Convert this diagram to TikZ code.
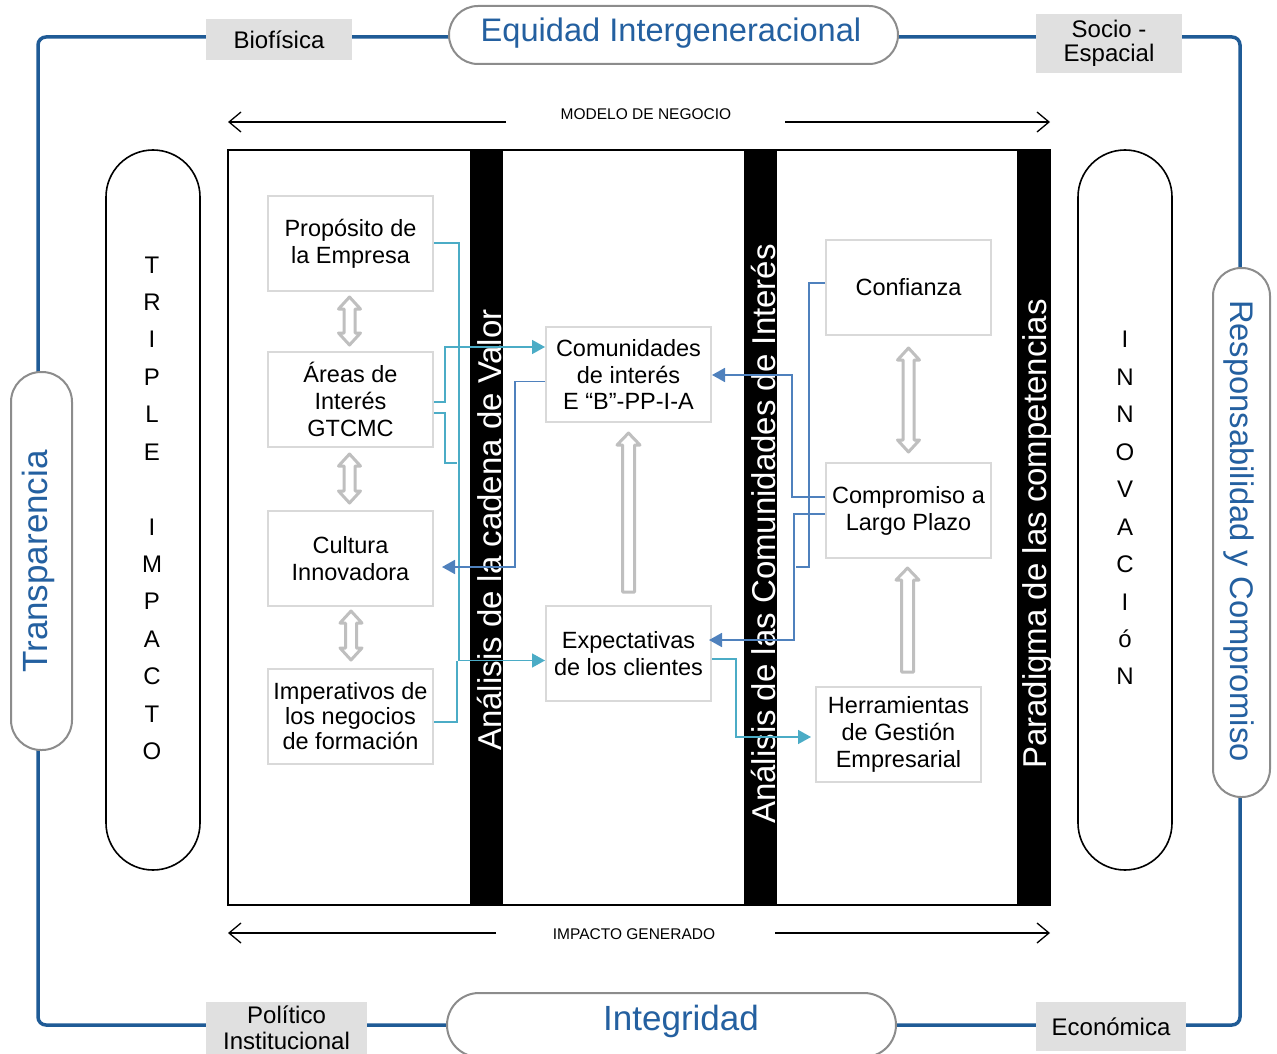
\documentclass[tikz,border=0pt]{standalone}
\usepackage{fontspec}
\setmainfont{Liberation Sans}
\usetikzlibrary{calc,arrows.meta}
\definecolor{oblue}{RGB}{31,91,150}
\definecolor{tblue}{RGB}{36,96,160}
\definecolor{lgray}{RGB}{224,224,224}
\definecolor{pgray}{RGB}{140,140,140}
\definecolor{bgray}{RGB}{217,217,217}
\definecolor{agray}{RGB}{191,191,191}
\definecolor{cyanl}{RGB}{75,172,198}
\definecolor{bluel}{RGB}{79,129,189}
\newcommand{\hollowdouble}[2]{%
  \draw[hollow] #1 -- ++(11,12) -- ++(-5.5,0) -- ($#2+(5.5,-12)$) -- ++(5.5,0) -- #2 -- ++(-11,-12) -- ++(5.5,0) -- ($#1+(-5.5,12)$) -- ++(-5.5,0) -- cycle;}
\newcommand{\hollowup}[2]{%
  \draw[hollow] #1 -- ++(11.5,12) -- ++(-5.5,0) -- ($#2+(6,0)$) -- ++(-12,0) -- ($#1+(-6,12)$) -- ++(-5.5,0) -- cycle;}
\begin{document}
\begin{tikzpicture}[x=1pt,y=-1pt,
  box/.style={draw=bgray, line width=2pt, fill=white, minimum width=165pt, minimum height=95pt, inner sep=0pt, align=center, font=\fontsize{23.5}{27}\selectfont},
  lab/.style={fill=lgray, inner sep=0pt, align=center},
  pill/.style={draw=pgray, line width=2pt, fill=white, inner sep=0pt},
  bpill/.style={draw=black, line width=1.6pt, fill=white, inner sep=0pt, minimum width=94pt, minimum height=720pt, rounded corners=47pt},
  bar/.style={fill=black, inner sep=0pt, minimum width=33pt, minimum height=755pt},
  bartext/.style={text=white, font=\fontsize{33}{33}\selectfont, rotate=90, anchor=base, inner sep=0pt},
  bigblue/.style={text=tblue, inner sep=0pt, anchor=base},
  letter/.style={font=\fontsize{24}{24}\selectfont, anchor=base, inner sep=0pt},
  hollow/.style={draw=agray, line width=3pt, fill=white, line join=round},
  cy/.style={draw=cyanl, line width=1.6pt},
  bl/.style={draw=bluel, line width=1.8pt},
  tip/.style={-{Triangle[length=13pt,width=14pt]}},
  flow/.style={line width=1.3pt, -{Straight Barb[length=12pt,width=20pt]}},
  small/.style={font=\fontsize{15.5}{15.5}\selectfont, anchor=base, inner sep=0pt}
]
\useasboundingbox (0,0) rectangle (1277,1054);
\clip (0,0) rectangle (1277,1054);

% outer frame
\draw[oblue, line width=3.5pt, rounded corners=8pt] (38,37) rectangle (1240,1025);

% corner labels
\node[lab, minimum width=146pt, minimum height=41pt, font=\fontsize{24}{24}\selectfont] (bio) at (279,39.5) {Biofísica};
\node[lab, minimum width=146pt, minimum height=59pt, font=\fontsize{24}{24}\selectfont] (soc) at (1109,43.5) {Socio -\\Espacial};
\node[lab, minimum width=161pt, minimum height=52pt, font=\fontsize{24}{26}\selectfont] (pol) at (286.5,1028) {Político\\Institucional};
\node[lab, minimum width=150pt, minimum height=49pt, font=\fontsize{24}{24}\selectfont] (eco) at (1111,1026.5) {Económica};

% value pills
\node[pill, minimum width=449pt, minimum height=58pt, rounded corners=29pt] (equp) at (673.5,35) {};
\node[bigblue, font=\fontsize{32.6}{33}\selectfont] (equ) at (671,42) {Equidad Intergeneracional};
\node[pill, minimum width=449pt, minimum height=64pt, rounded corners=32pt] (intp) at (671.5,1025) {};
\node[bigblue, font=\fontsize{35}{35}\selectfont] (int) at (681,1030) {Integridad};
\node[pill, minimum width=61pt, minimum height=378pt, rounded corners=30pt] (trap) at (41.5,561) {};
\node[bigblue, font=\fontsize{35}{35}\selectfont, rotate=90] (tra) at (47,561.5) {Transparencia};
\node[pill, minimum width=57pt, minimum height=529pt, rounded corners=28pt] (resp) at (1241.5,532.5) {};
\node[bigblue, font=\fontsize{32.7}{33}\selectfont, rotate=-90] (res) at (1230,531) {Responsabilidad y Compromiso};

% top and bottom flows
\node[small] (mod) at (646,120) {MODELO DE NEGOCIO};
\coordinate (modL) at (506,122); \coordinate (modLe) at (228,122);
\coordinate (modR) at (785,122); \coordinate (modRe) at (1050,122);
\draw[flow] (modL) -- (modLe);
\draw[flow] (modR) -- (modRe);
\node[small] (imp) at (634,939) {IMPACTO GENERADO};
\coordinate (impL) at (496,933); \coordinate (impLe) at (228,933);
\coordinate (impR) at (775,933); \coordinate (impRe) at (1050,933);
\draw[flow] (impL) -- (impLe);
\draw[flow] (impR) -- (impRe);

% side pills
\node[bpill] (tri) at (153,510) {};
\foreach \l/\yy [count=\i] in {T/265,R/302,I/339,P/377,L/414,E/452,I/527,M/564,P/601,A/639,C/676,T/714,O/751}
  \node[letter] (tl\i) at (152,\yy+8.6) {\l};
\node[bpill] (inn) at (1125,510) {};
\foreach \l/\yy [count=\i] in {I/339,N/377,N/414,O/452,V/489,A/527,C/564,I/602,ó/639,N/676}
  \node[letter] (il\i) at (1125,\yy+8.6) {\l};

% main frame and bars
\node[draw=black, line width=2pt, minimum width=822pt, minimum height=755pt, inner sep=0pt] (main) at (639,527.5) {};
\node[bar] (bar1) at (486.5,527.5) {};
\node[bar] (bar2) at (760.5,527.5) {};
\node[bar] (bar3) at (1033.5,527.5) {};
\node[bartext] (bt1) at (501,530) {Análisis de la cadena de Valor};
\node[bartext] (bt2) at (775,534) {Análisis de las Comunidades de Interés};
\node[bartext] (bt3) at (1046,534) {Paradigma de las competencias};

% boxes
\node[box] (prop) at (350.5,243.5) {Propósito de\\la Empresa};
\node[box] (areas) at (350.5,399.5) {Áreas de\\Interés\\GTCMC};
\node[box] (cult) at (350.5,558.5) {Cultura\\Innovadora};
\node[box, font=\fontsize{23.5}{25}\selectfont] (imper) at (350.5,716.5) {Imperativos de\\los negocios\\de formación};
\node[box, font=\fontsize{23.5}{26.5}\selectfont] (comu) at (628.5,374.5) {Comunidades\\de interés\\E “B”-PP-I-A};
\node[box] (expe) at (628.5,653.5) {Expectativas\\de los clientes};
\node[box] (conf) at (908.5,287.5) {Confianza};
\node[box] (comp) at (908.5,510.5) {Compromiso a\\Largo Plazo};
\node[box] (herr) at (898.5,734.5) {Herramientas\\de Gestión\\Empresarial};

% hollow arrows
\coordinate (a1t) at ($(prop.south)+(-1,5)$);  \coordinate (a1b) at ($(areas.north)+(-1,-6)$);
\coordinate (a2t) at ($(areas.south)+(-1,6)$); \coordinate (a2b) at ($(cult.north)+(-1,-7)$);
\coordinate (a3t) at ($(cult.south)+(0.5,4)$); \coordinate (a3b) at ($(imper.north)+(0.5,-8)$);
\coordinate (a4t) at ($(comu.south)+(0,10)$);  \coordinate (a4b) at ($(expe.north)+(0,-13)$);
\coordinate (a5t) at ($(conf.south)+(0,12)$);  \coordinate (a5b) at ($(comp.north)+(0,-10)$);
\coordinate (a6t) at ($(comp.south)+(-1,9)$);  \coordinate (a6b) at ($(comp.south |- herr.north)+(-1,-14)$);
\hollowdouble{(a1t)}{(a1b)}
\hollowdouble{(a2t)}{(a2b)}
\hollowdouble{(a3t)}{(a3b)}
\hollowup{(a4t)}{(a4b)}
\hollowdouble{(a5t)}{(a5b)}
\hollowup{(a6t)}{(a6b)}

% connectors
\draw[cy,tip] ($(prop.east)+(0,-0.5)$) -- ++(25,0) |- ($(expe.west)+(0,7)$);
\draw[cy] ($(imper.east)+(0,5.5)$) -| ($(expe.west)+(-88,7)$);
\draw[cy,tip] ($(areas.east)+(0,2.5)$) -- ++(11,0) |- ($(comu.west)+(0,-27.5)$);
\draw[cy] ($(areas.east)+(0,13.5)$) -- ++(11,0) |- ($(expe.west)+(-88,-190.5)$);
\draw[cy,tip] ($(expe.east)+(0,5.5)$) -- ++(24,0) |- ($(herr.west)+(-4,2.5)$);
\draw[bl,tip] ($(comp.west)+(0,-13.5)$) -- ++(-33,0) |- ($(comu.east)+(0,0.5)$);
\draw[bl,tip] ($(comp.west)+(0,3.5)$) -- ++(-31,0) |- ($(expe.east)+(-3,-13.5)$);
\draw[bl] ($(conf.west)+(0,-4.5)$) -- ++(-16,0) |- ($(expe.east)+(84,-86.5)$);
\draw[bl,tip] ($(comu.west)+(0,7)$) -- ++(-30,0) |- ($(cult.east)+(8,8.5)$);
\end{tikzpicture}
\end{document}
